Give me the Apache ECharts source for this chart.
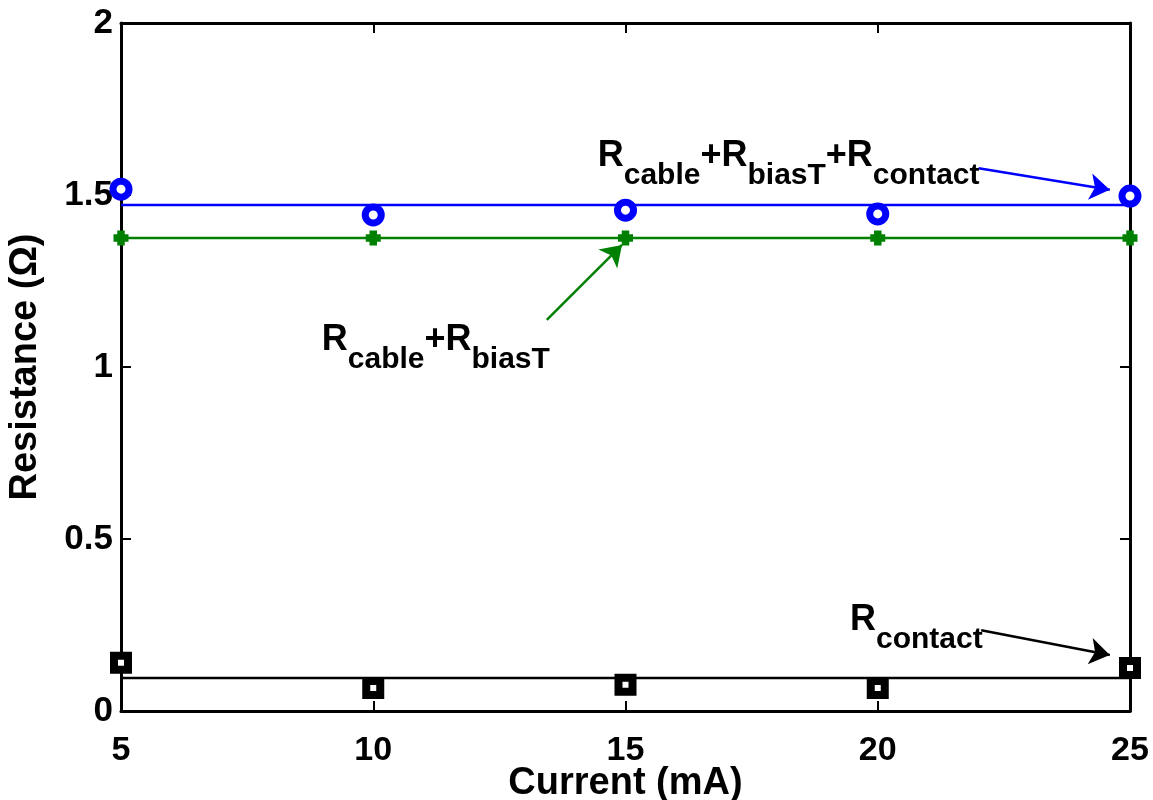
<!DOCTYPE html>
<html>
<head>
<meta charset="utf-8">
<script src="https://cdn.jsdelivr.net/npm/echarts@6/dist/echarts.min.js"></script>
<style>
html,body{margin:0;padding:0;background:#fff;}
#chart{width:1153px;height:800px;}
</style>
</head>
<body>
<div id="chart"></div>
<script>
// ---- data ----
const currents = [5, 10, 15, 20, 25];
const totalR = [1.517, 1.442, 1.456, 1.445, 1.497];      // Rcable+RbiasT+Rcontact (blue circles)
const cableBiasR = [1.375, 1.375, 1.375, 1.375, 1.375];  // Rcable+RbiasT (green plus)
const contactR = [0.140, 0.067, 0.076, 0.067, 0.125];    // Rcontact (black squares)
const fitTotal = 1.471;
const fitCableBias = 1.375;
const fitContact = 0.096;
const xTicks = [5, 10, 15, 20, 25];
const yTicks = [0, 0.5, 1, 1.5, 2];

// annotation arrows: [x1, y1, x2, y2] in data units
const arrowTotal = [22.0, 1.578, 24.6, 1.515];
const arrowCableBias = [13.44, 1.137, 14.93, 1.355];
const arrowContact = [22.05, 0.235, 24.6, 0.163];
// annotation text anchors in data units
const textTotalAt = [14.45, 1.616];
const textCableBiasAt = [8.98, 1.081];
const textContactAt = [19.45, 0.267];

const FONT = '"Liberation Sans", Arial, Helvetica, sans-serif';
const BLUE = '#0000ff', GREEN = '#008000', BLACK = '#000000';

function pts(ys) { return currents.map((x, i) => [x, ys[i]]); }
function fit(v) { return [[currents[0], v], [currents[currents.length - 1], v]]; }
function arrowML(a, color) {
  return {
    silent: true, animation: false,
    symbol: ['none', 'arrow'], symbolSize: 20,
    lineStyle: { color: color, width: 2.5, type: 'solid' },
    itemStyle: { color: color },
    label: { show: false },
    emphasis: { disabled: true },
    data: [[{ coord: [a[0], a[1]] }, { coord: [a[2], a[3]] }]]
  };
}

const chart = echarts.init(document.getElementById('chart'), null, { renderer: 'canvas' });

const axisLineStyle = { color: '#000', width: 3 };
const tickStyle = { show: true, inside: true, length: 10, lineStyle: { color: '#000', width: 2 } };
const option = {
  backgroundColor: '#fff',
  animation: false,
  grid: { left: 121, right: 23, top: 23, bottom: 89, outerBoundsMode: 'none', containLabel: false },
  xAxis: [{
    type: 'value', min: 5, max: 25, interval: 5, position: 'bottom',
    name: 'Current (mA)', nameLocation: 'middle', nameGap: 54, nameMoveOverlap: false,
    nameTextStyle: { fontFamily: FONT, fontWeight: 'bold', fontSize: 38, color: '#000' },
    axisLine: { show: true, onZero: false, lineStyle: axisLineStyle },
    axisTick: tickStyle,
    axisLabel: { fontFamily: FONT, fontWeight: 'bold', fontSize: 34, color: '#000', margin: 23,
      formatter: v => xTicks.includes(v) ? String(v) : '' },
    splitLine: { show: false }
  }, {
    type: 'value', min: 5, max: 25, interval: 5, position: 'top',
    axisLine: { show: true, onZero: false, lineStyle: axisLineStyle },
    axisTick: tickStyle,
    axisLabel: { show: false }, splitLine: { show: false }
  }],
  yAxis: [{
    type: 'value', min: 0, max: 2, interval: 0.5, position: 'left',
    name: 'Resistance (Ω)', nameLocation: 'middle', nameGap: 76, nameRotate: 90, nameMoveOverlap: false,
    nameTextStyle: { fontFamily: FONT, fontWeight: 'bold', fontSize: 38, color: '#000' },
    axisLine: { show: true, onZero: false, lineStyle: axisLineStyle },
    axisTick: tickStyle,
    axisLabel: { fontFamily: FONT, fontWeight: 'bold', fontSize: 35, color: '#000', margin: 8,
      formatter: v => yTicks.includes(v) ? String(v) : '' },
    splitLine: { show: false }
  }, {
    type: 'value', min: 0, max: 2, interval: 0.5, position: 'right',
    axisLine: { show: true, onZero: false, lineStyle: axisLineStyle },
    axisTick: tickStyle,
    axisLabel: { show: false }, splitLine: { show: false }
  }],
  series: [
    { type: 'line', data: fit(fitTotal), symbol: 'none', lineStyle: { color: BLUE, width: 2.5 }, z: 2,
      markLine: arrowML(arrowTotal, BLUE) },
    { type: 'line', data: fit(fitCableBias), symbol: 'none', lineStyle: { color: GREEN, width: 2.5 }, z: 2,
      markLine: arrowML(arrowCableBias, GREEN) },
    { type: 'line', data: fit(fitContact), symbol: 'none', lineStyle: { color: BLACK, width: 2.5 }, z: 2,
      markLine: arrowML(arrowContact, BLACK) },
    { type: 'scatter', data: pts(totalR), symbol: 'circle', symbolSize: 16, z: 4,
      itemStyle: { color: '#fff', borderColor: BLUE, borderWidth: 7, opacity: 1 } },
    { type: 'scatter', data: pts(cableBiasR), z: 4,
      symbol: 'path://M2.5,0L7.5,0L7.5,2.5L10,2.5L10,7.5L7.5,7.5L7.5,10L2.5,10L2.5,7.5L0,7.5L0,2.5L2.5,2.5Z', symbolSize: 15,
      itemStyle: { color: GREEN, opacity: 1 } },
    { type: 'scatter', data: pts(contactR), symbol: 'rect', symbolSize: 14, z: 4,
      itemStyle: { color: '#fff', borderColor: BLACK, borderWidth: 8, opacity: 1 } }
  ]
};
chart.setOption(option);

function richLabel(parts, color) {
  const text = parts.map(p => (p[1] ? '{s|' : '{m|') + p[0] + '}').join('');
  return {
    text: text,
    rich: {
      m: { fontFamily: FONT, fontWeight: 'bold', fontSize: 36, lineHeight: 36, color: color,
           verticalAlign: 'bottom', padding: [0, 0, 17, 0] },
      s: { fontFamily: FONT, fontWeight: 'bold', fontSize: 30, lineHeight: 30, color: color,
           verticalAlign: 'bottom' }
    }
  };
}
function textEl(at, parts, color) {
  const p = chart.convertToPixel({ gridIndex: 0 }, at);
  const st = richLabel(parts, color);
  return {
    type: 'text', x: p[0], y: p[1], z: 10, silent: true,
    style: Object.assign({ align: 'left', verticalAlign: 'top' }, st)
  };
}
chart.setOption({
  graphic: [
    textEl(textTotalAt, [['R', 0], ['cable', 1], ['+R', 0], ['biasT', 1], ['+R', 0], ['contact', 1]], BLUE),
    textEl(textCableBiasAt, [['R', 0], ['cable', 1], ['+R', 0], ['biasT', 1]], GREEN),
    textEl(textContactAt, [['R', 0], ['contact', 1]], BLACK)
  ]
});
</script>
</body>
</html>
